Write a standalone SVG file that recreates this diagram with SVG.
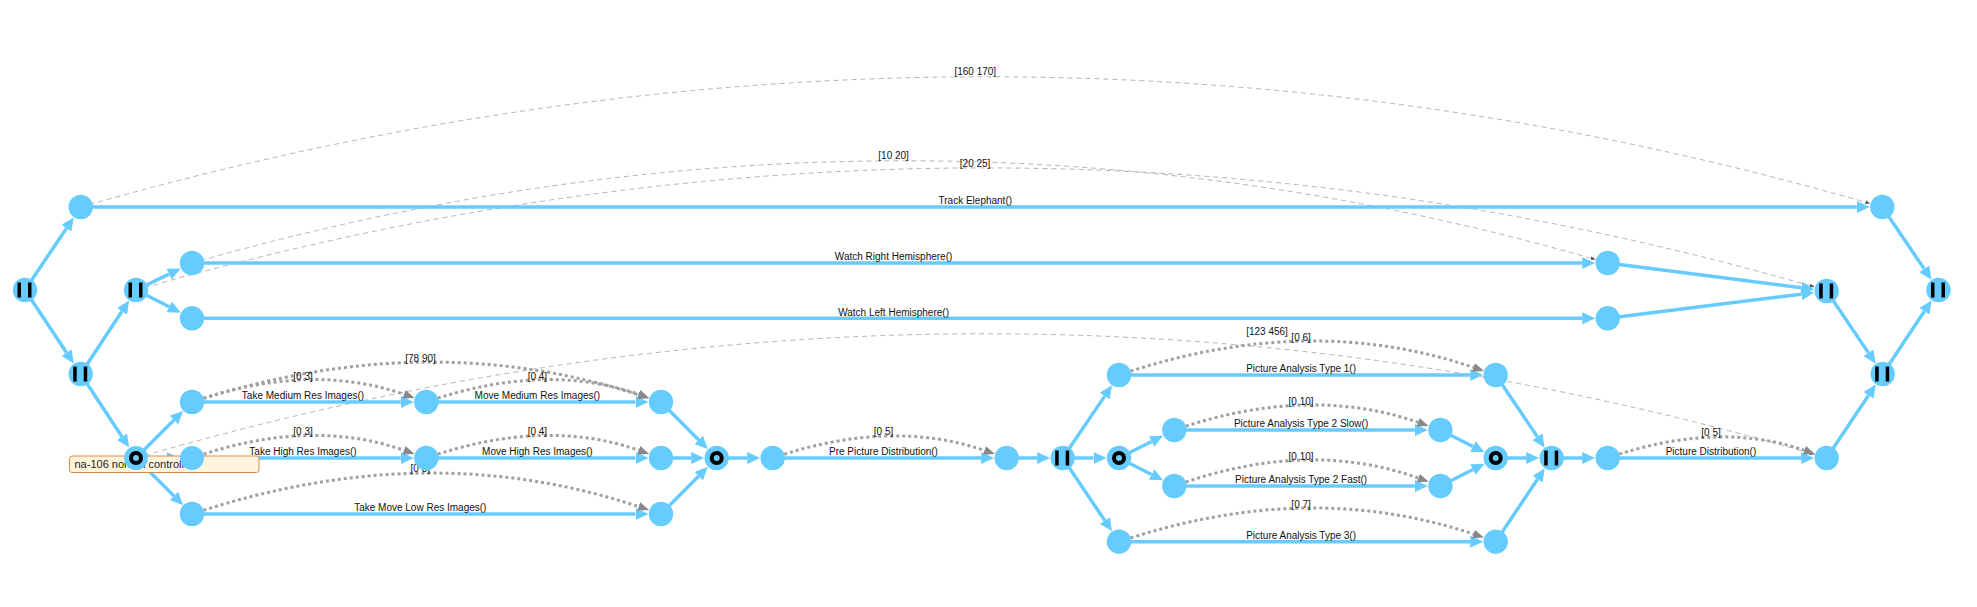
<svg xmlns="http://www.w3.org/2000/svg" width="1977" height="607" viewBox="0 0 1977 607">
<style>
.e{fill:none;stroke:#66ccff;stroke-width:3.5;marker-end:url(#ab)}
.c{fill:none;stroke:#a0a0a0;stroke-width:3;stroke-dasharray:3,3;marker-end:url(#ag)}
.t{fill:none;stroke:#b4b4b4;stroke-width:1;stroke-dasharray:5,4;marker-end:url(#at)}
.n{fill:#66ccff}
.bar{fill:#000}
.ring{fill:none;stroke:#000;stroke-width:4}
text{font-family:"Liberation Sans",Arial,sans-serif;font-size:10px;fill:#111;text-anchor:middle}
.note{fill:#fff5dc;stroke:#dd8a50;stroke-width:1}
.nt{font-size:11px;text-anchor:start;fill:#222}
</style>
<defs>
<marker id="ab" markerUnits="userSpaceOnUse" markerWidth="13" markerHeight="12" refX="0" refY="6" orient="auto"><path d="M0,0 L13,6 L0,12 z" fill="#66ccff"/></marker>
<marker id="ag" markerUnits="userSpaceOnUse" markerWidth="11" markerHeight="9" refX="0" refY="4.5" orient="auto"><path d="M0,0 L11,4.5 L0,9 z" fill="#888"/></marker>
<marker id="at" markerUnits="userSpaceOnUse" markerWidth="5" markerHeight="4" refX="0" refY="2" orient="auto"><path d="M0,0 L5,2 L0,4 z" fill="#555"/></marker>
</defs>
<rect width="1977" height="607" fill="#fff"/>
<g id="connectors">
<path class="t" d="M80.7,207 Q981.5,-51 1865.5,202.2"/>
<path class="t" d="M192,263 Q899.85,61 1590.9,258.2"/>
<path class="t" d="M136,290 Q981.35,48 1809.9,285.7"/>
<path class="t" d="M136,458 Q981.35,212 1809.9,453.1"/>
<path class="e" d="M25,290 L66.5,228.17"/>
<path class="e" d="M25,290 L66.61,352.75"/>
<path class="e" d="M80.7,374 L121.98,311.3"/>
<path class="e" d="M80.7,374 L121.98,436.7"/>
<path class="e" d="M136,290 L169.03,274.07"/>
<path class="e" d="M136,290 L169.24,306.8"/>
<path class="e" d="M136,458 L173.97,420.03"/>
<path class="e" d="M136,458 L166.5,458"/>
<path class="e" d="M136,458 L173.97,495.97"/>
<path class="e" d="M80.7,207 L1856.8,207"/>
<path class="e" d="M192,263 L1582.2,263"/>
<path class="e" d="M192,318.3 L1582.2,318.3"/>
<path class="e" d="M192,402 L400.8,402"/>
<path class="e" d="M426.3,402 L635.5,402"/>
<path class="e" d="M192,458 L400.8,458"/>
<path class="e" d="M426.3,458 L635.5,458"/>
<path class="e" d="M192,514 L635.5,514"/>
<path class="e" d="M661,402 L698.72,439.92"/>
<path class="e" d="M661,458 L691.2,458"/>
<path class="e" d="M661,514 L698.72,476.08"/>
<path class="e" d="M716.7,458 L747.2,458"/>
<path class="e" d="M772.7,458 L981.2,458"/>
<path class="e" d="M1006.7,458 L1037.2,458"/>
<path class="e" d="M1062.7,458 L1104.68,396.11"/>
<path class="e" d="M1062.7,458 L1093.5,458"/>
<path class="e" d="M1062.7,458 L1104.77,520.54"/>
<path class="e" d="M1119,458 L1151.55,441.52"/>
<path class="e" d="M1119,458 L1151.55,474.48"/>
<path class="e" d="M1119,375 L1470.2,375"/>
<path class="e" d="M1174.3,430 L1414.9,430"/>
<path class="e" d="M1174.3,486 L1414.9,486"/>
<path class="e" d="M1119,541.7 L1470.2,541.7"/>
<path class="e" d="M1440.4,430 L1472.95,446.48"/>
<path class="e" d="M1440.4,486 L1472.95,469.52"/>
<path class="e" d="M1495.7,458 L1526.2,458"/>
<path class="e" d="M1495.7,375 L1537.44,436.86"/>
<path class="e" d="M1495.7,541.7 L1537.52,479.19"/>
<path class="e" d="M1551.7,458 L1582.2,458"/>
<path class="e" d="M1607.7,458 L1801.2,458"/>
<path class="e" d="M1826.7,458 L1868.56,395.22"/>
<path class="e" d="M1607.7,263 L1801.41,287.76"/>
<path class="e" d="M1607.7,318.3 L1801.4,294.16"/>
<path class="e" d="M1826.7,291 L1868.44,352.86"/>
<path class="e" d="M1882.7,374 L1924.39,311.24"/>
<path class="e" d="M1882.3,207 L1924.2,268.89"/>
<path class="c" d="M192,402 Q309.15,361.4 404.1,394.3"/>
<path class="c" d="M426.3,402 Q543.65,361.4 638.8,394.3"/>
<path class="c" d="M192,402 Q426.5,326 638.6,394.8"/>
<path class="c" d="M192,458 Q309.15,417 404.1,450.3"/>
<path class="c" d="M426.3,458 Q543.65,417 638.8,450.3"/>
<path class="c" d="M192,514 Q426.5,436 638.7,506.6"/>
<path class="c" d="M772.7,458 Q889.7,418 984.5,450.4"/>
<path class="c" d="M1119,375 Q1307.35,311 1473.5,367.4"/>
<path class="c" d="M1174.3,430 Q1307.35,384 1418.2,422.3"/>
<path class="c" d="M1174.3,486 Q1307.35,438 1418.3,478.1"/>
<path class="c" d="M1119,541.7 Q1307.35,478.3 1473.5,534.1"/>
<path class="c" d="M1607.7,458 Q1717.2,420 1804.5,450.3"/>
<text x="975.3" y="204.3">Track Elephant()</text>
<text x="893.6" y="260.3">Watch Right Hemisphere()</text>
<text x="893.6" y="315.6">Watch Left Hemisphere()</text>
<text x="303" y="399.3">Take Medium Res Images()</text>
<text x="537.4" y="399.3">Move Medium Res Images()</text>
<text x="303" y="455.3">Take High Res Images()</text>
<text x="537.4" y="455.3">Move High Res Images()</text>
<text x="420.3" y="511.3">Take Move Low Res Images()</text>
<text x="883.5" y="455.3">Pre Picture Distribution()</text>
<text x="1301.1" y="372.3">Picture Analysis Type 1()</text>
<text x="1301.1" y="427.3">Picture Analysis Type 2 Slow()</text>
<text x="1301.1" y="483.3">Picture Analysis Type 2 Fast()</text>
<text x="1301.1" y="539">Picture Analysis Type 3()</text>
<text x="1711" y="455.3">Picture Distribution()</text>
<text x="975.3" y="74.7">[160 170]</text>
<text x="893.6" y="159">[10 20]</text>
<text x="975.1" y="166.7">[20 25]</text>
<text x="1267" y="334.6">[123 456]</text>
<text x="303" y="379.5">[0 3]</text>
<text x="537.4" y="379.5">[0 4]</text>
<text x="420.5" y="362">[78 90]</text>
<text x="303" y="435.3">[0 3]</text>
<text x="537.4" y="435.3">[0 4]</text>
<text x="420.3" y="472.3">[0 3]</text>
<text x="883.5" y="435.3">[0 5]</text>
<text x="1301.1" y="341.3">[0 6]</text>
<text x="1301.1" y="404.7">[0 10]</text>
<text x="1301.1" y="460.3">[0 10]</text>
<text x="1301.1" y="508">[0 7]</text>
<text x="1711" y="436.3">[0 5]</text>
</g>
<g id="note">
<rect class="note" x="69.5" y="456" width="189.5" height="16.5" rx="2.5"/>
<text class="nt" x="74.5" y="468">na-106 normal controller</text>
</g>
<g id="nodes">
<g id="n-fork1"><circle class="n" cx="25" cy="290" r="12.2"/><rect class="bar" x="17.5" y="282.5" width="3.5" height="15"/><rect class="bar" x="28" y="282.5" width="3.5" height="15"/></g>
<g id="n-track-start"><circle class="n" cx="80.7" cy="207" r="12.2"/></g>
<g id="n-fork2"><circle class="n" cx="80.7" cy="374" r="12.2"/><rect class="bar" x="73.2" y="366.5" width="3.5" height="15"/><rect class="bar" x="83.7" y="366.5" width="3.5" height="15"/></g>
<g id="n-fork3"><circle class="n" cx="136" cy="290" r="12.2"/><rect class="bar" x="128.5" y="282.5" width="3.5" height="15"/><rect class="bar" x="139" y="282.5" width="3.5" height="15"/></g>
<g id="n-choice1"><circle class="n" cx="136" cy="458" r="12"/><circle class="ring" cx="136" cy="458" r="5"/></g>
<g id="n-watchR-start"><circle class="n" cx="192" cy="263" r="12.2"/></g>
<g id="n-watchL-start"><circle class="n" cx="192" cy="318.3" r="12.2"/></g>
<g id="n-medium-start"><circle class="n" cx="192" cy="402" r="12.2"/></g>
<g id="n-high-start"><circle class="n" cx="192" cy="458" r="12"/></g>
<g id="n-low-start"><circle class="n" cx="192" cy="514" r="12.2"/></g>
<g id="n-medium-mid"><circle class="n" cx="426.3" cy="402" r="12.2"/></g>
<g id="n-high-mid"><circle class="n" cx="426.3" cy="458" r="12.2"/></g>
<g id="n-medium-end"><circle class="n" cx="661" cy="402" r="12.2"/></g>
<g id="n-high-end"><circle class="n" cx="661" cy="458" r="12.2"/></g>
<g id="n-low-end"><circle class="n" cx="661" cy="514" r="12.2"/></g>
<g id="n-merge1"><circle class="n" cx="716.7" cy="458" r="12.2"/><circle class="ring" cx="716.7" cy="458" r="5"/></g>
<g id="n-pre-start"><circle class="n" cx="772.7" cy="458" r="12.2"/></g>
<g id="n-pre-end"><circle class="n" cx="1006.7" cy="458" r="12.2"/></g>
<g id="n-fork4"><circle class="n" cx="1062.7" cy="458" r="12.2"/><rect class="bar" x="1055.2" y="450.5" width="3.5" height="15"/><rect class="bar" x="1065.7" y="450.5" width="3.5" height="15"/></g>
<g id="n-pa1-start"><circle class="n" cx="1119" cy="375" r="12.2"/></g>
<g id="n-choice2"><circle class="n" cx="1119" cy="458" r="12.2"/><circle class="ring" cx="1119" cy="458" r="5"/></g>
<g id="n-pa3-start"><circle class="n" cx="1119" cy="541.7" r="12.2"/></g>
<g id="n-pa2s-start"><circle class="n" cx="1174.3" cy="430" r="12.2"/></g>
<g id="n-pa2f-start"><circle class="n" cx="1174.3" cy="486" r="12.2"/></g>
<g id="n-pa2s-end"><circle class="n" cx="1440.4" cy="430" r="12.2"/></g>
<g id="n-pa2f-end"><circle class="n" cx="1440.4" cy="486" r="12.2"/></g>
<g id="n-pa1-end"><circle class="n" cx="1495.7" cy="375" r="12.2"/></g>
<g id="n-merge2"><circle class="n" cx="1495.7" cy="458" r="12.2"/><circle class="ring" cx="1495.7" cy="458" r="5"/></g>
<g id="n-pa3-end"><circle class="n" cx="1495.7" cy="541.7" r="12.2"/></g>
<g id="n-join4"><circle class="n" cx="1551.7" cy="458" r="12.2"/><rect class="bar" x="1544.2" y="450.5" width="3.5" height="15"/><rect class="bar" x="1554.7" y="450.5" width="3.5" height="15"/></g>
<g id="n-pd-start"><circle class="n" cx="1607.7" cy="458" r="12.2"/></g>
<g id="n-watchR-end"><circle class="n" cx="1607.7" cy="263" r="12.2"/></g>
<g id="n-watchL-end"><circle class="n" cx="1607.7" cy="318.3" r="12.2"/></g>
<g id="n-pd-end"><circle class="n" cx="1826.7" cy="458" r="12.2"/></g>
<g id="n-join3"><circle class="n" cx="1826.7" cy="291" r="12.2"/><rect class="bar" x="1819.2" y="283.5" width="3.5" height="15"/><rect class="bar" x="1829.7" y="283.5" width="3.5" height="15"/></g>
<g id="n-join2"><circle class="n" cx="1882.7" cy="374" r="12.2"/><rect class="bar" x="1875.2" y="366.5" width="3.5" height="15"/><rect class="bar" x="1885.7" y="366.5" width="3.5" height="15"/></g>
<g id="n-track-end"><circle class="n" cx="1882.3" cy="207" r="12.2"/></g>
<g id="n-join1"><circle class="n" cx="1938.5" cy="290" r="12.2"/><rect class="bar" x="1931" y="282.5" width="3.5" height="15"/><rect class="bar" x="1941.5" y="282.5" width="3.5" height="15"/></g>
</g>
</svg>
